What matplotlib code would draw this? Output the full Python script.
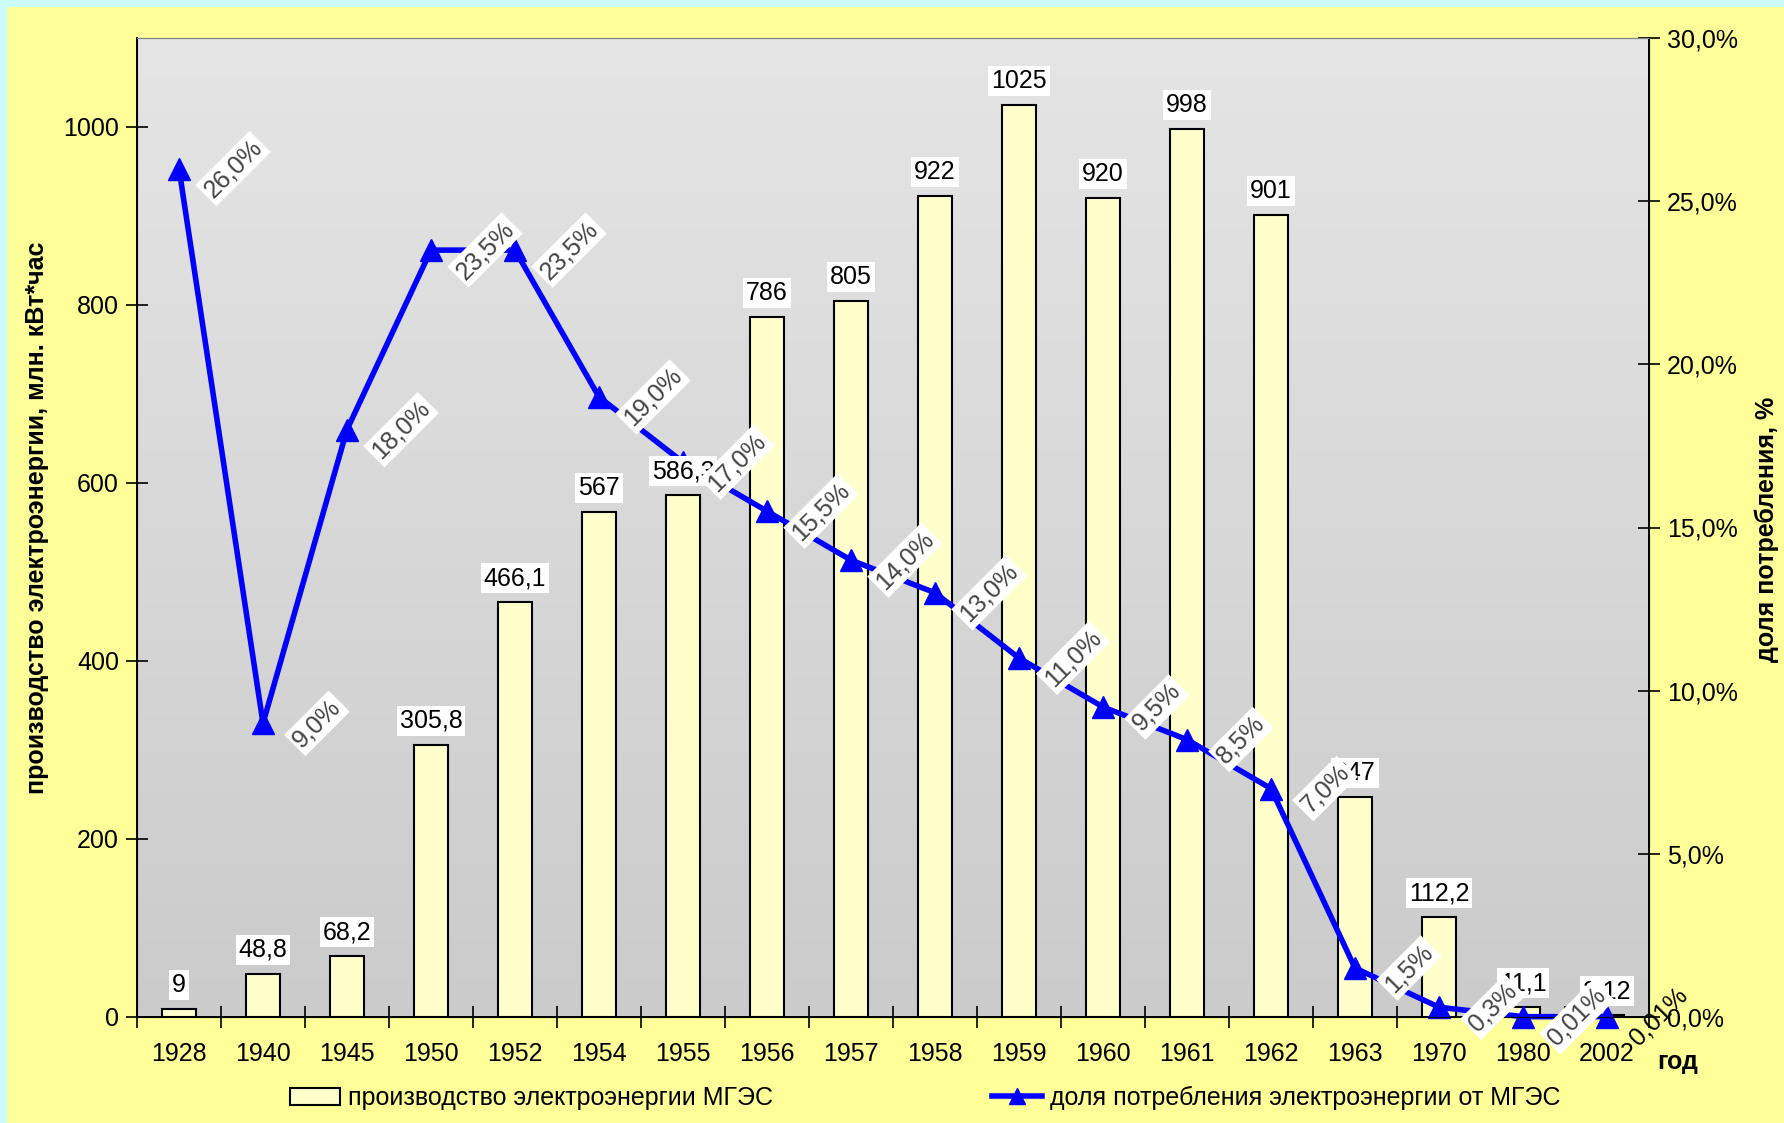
import numpy as np
import matplotlib
matplotlib.use("Agg")
import matplotlib.pyplot as plt
from matplotlib.patches import Rectangle, Patch
from matplotlib.lines import Line2D

plt.rcParams['font.family'] = ['Liberation Sans', 'DejaVu Sans']

years = ['1928', '1940', '1945', '1950', '1952', '1954', '1955', '1956', '1957',
         '1958', '1959', '1960', '1961', '1962', '1963', '1970', '1980', '2002']
production = [9, 48.8, 68.2, 305.8, 466.1, 567, 586.3, 786, 805,
              922, 1025, 920, 998, 901, 247, 112.2, 11.1, 2.12]
share = [26.0, 9.0, 18.0, 23.5, 23.5, 19.0, 17.0, 15.5, 14.0,
         13.0, 11.0, 9.5, 8.5, 7.0, 1.5, 0.3, 0.01, 0.01]
share_text = ['26,0%', '9,0%', '18,0%', '23,5%', '23,5%', '19,0%', '17,0%', '15,5%', '14,0%',
              '13,0%', '11,0%', '9,5%', '8,5%', '7,0%', '1,5%', '0,3%', '0,01%', '0,01%']

FS = 18
W, H = 1784, 1123
fig = plt.figure(figsize=(W / 100, H / 100), dpi=100, facecolor='#ccffff')
fig.patches.append(Rectangle((7 / W, 0), 1, 1 - 7 / H, transform=fig.transFigure,
                             facecolor='#ffff99', edgecolor='none', zorder=-10))

ax = fig.add_axes([137 / W, 1 - 1017 / H, (1649 - 137) / W, (1017 - 38) / H])
ax.patch.set_visible(False)

# grey gradient behind the plot
grad = np.linspace(0, 1, 256).reshape(-1, 1)
ax.imshow(grad, extent=[0, 1, 0, 1], transform=ax.transAxes, aspect='auto',
          cmap=matplotlib.colors.LinearSegmentedColormap.from_list('g', ['#e5e5e5', '#cbcbcb']),
          origin='upper', zorder=0)

x = np.arange(len(years))
ax.bar(x, production, width=0.4, color='#ffffcc', edgecolor='black', linewidth=1.5, zorder=2)
ax.set_xlim(-0.5, len(years) - 0.5)
ax.set_ylim(0, 1100)
ax.set_yticks(range(0, 1001, 200))
ax.set_xticks(x)
ax.set_xticklabels(years)
ax.set_xticks(np.arange(-0.5, len(years), 1), minor=True)
ax.tick_params(axis='x', which='major', length=0, pad=18, labelsize=FS)
ax.tick_params(axis='x', which='minor', direction='inout', length=16, width=1.2)
ax.tick_params(axis='y', direction='inout', length=16, width=1.2, labelsize=FS, pad=5)
for s in ['left', 'bottom']:
    ax.spines[s].set_linewidth(1.4)
ax.spines['top'].set_color('#808080')

ax2 = ax.twinx()
ax2.set_ylim(0, 30)
ax2.set_yticks(range(0, 31, 5))
ax2.set_yticklabels([f'{v},0%' for v in range(0, 31, 5)])
ax2.tick_params(axis='y', direction='inout', length=16, width=1.2, labelsize=FS, pad=5)
ax2.spines['right'].set_linewidth(1.4)
ax2.spines['top'].set_color('#808080')
ax2.plot(x, share, color='#0000ff', linewidth=4, marker='^', markersize=16,
         clip_on=False, zorder=2)

# value labels above the bars (drawn on top of the line)
for xi, v in zip(x, production):
    ax2.annotate(f'{v:g}'.replace('.', ','), xy=(xi, v), xycoords=ax.transData,
                 xytext=(0, 12), textcoords='offset pixels', ha='center', va='bottom',
                 fontsize=FS, color='black', zorder=4,
                 bbox=dict(boxstyle='square,pad=0.12', facecolor='white', edgecolor='none'))

# rotated share labels
for i, (xi, v, t) in enumerate(zip(x, share, share_text)):
    if i == len(x) - 1:
        ax2.annotate(t, xy=(xi, v), xytext=(52, 0), textcoords='offset pixels',
                     ha='center', va='center', rotation=45, fontsize=FS, color='black',
                     annotation_clip=False, zorder=5)
    else:
        ax2.annotate(t, xy=(xi, v), xytext=(54, 0), textcoords='offset pixels',
                     ha='center', va='center', rotation=45, fontsize=FS, color='#444444',
                     zorder=5,
                     bbox=dict(boxstyle='square,pad=0.12', facecolor='white', edgecolor='none'))

fig.text(37 / W, 1 - 518 / H, 'производство электроэнергии, млн. кВт*час', rotation=90,
         ha='center', va='center', fontsize=FS, fontweight='bold')
fig.text(1767 / W, 1 - 529 / H, 'доля потребления, %', rotation=90,
         ha='center', va='center', fontsize=FS, fontweight='bold')
fig.text(1678 / W, 1 - 1062 / H, 'год', ha='center', va='center', fontsize=FS, fontweight='bold')

bar_handle = Patch(facecolor='#ffffcc', edgecolor='black', linewidth=1.5)
line_handle = Line2D([], [], color='#0000ff', linewidth=4, marker='^', markersize=12)
fig.legend([bar_handle], ['производство электроэнергии МГЭС'], loc='center left',
           bbox_to_anchor=(290 / W, 1 - 1098 / H), frameon=False, fontsize=FS,
           borderpad=0, borderaxespad=0, handlelength=2.0, handletextpad=0.3)
fig.legend([line_handle], ['доля потребления электроэнергии от МГЭС'], loc='center left',
           bbox_to_anchor=(992 / W, 1 - 1098 / H), frameon=False, fontsize=FS,
           borderpad=0, borderaxespad=0, handlelength=2.0, handletextpad=0.3)

fig.savefig('out.png', dpi=100, facecolor=fig.get_facecolor())
